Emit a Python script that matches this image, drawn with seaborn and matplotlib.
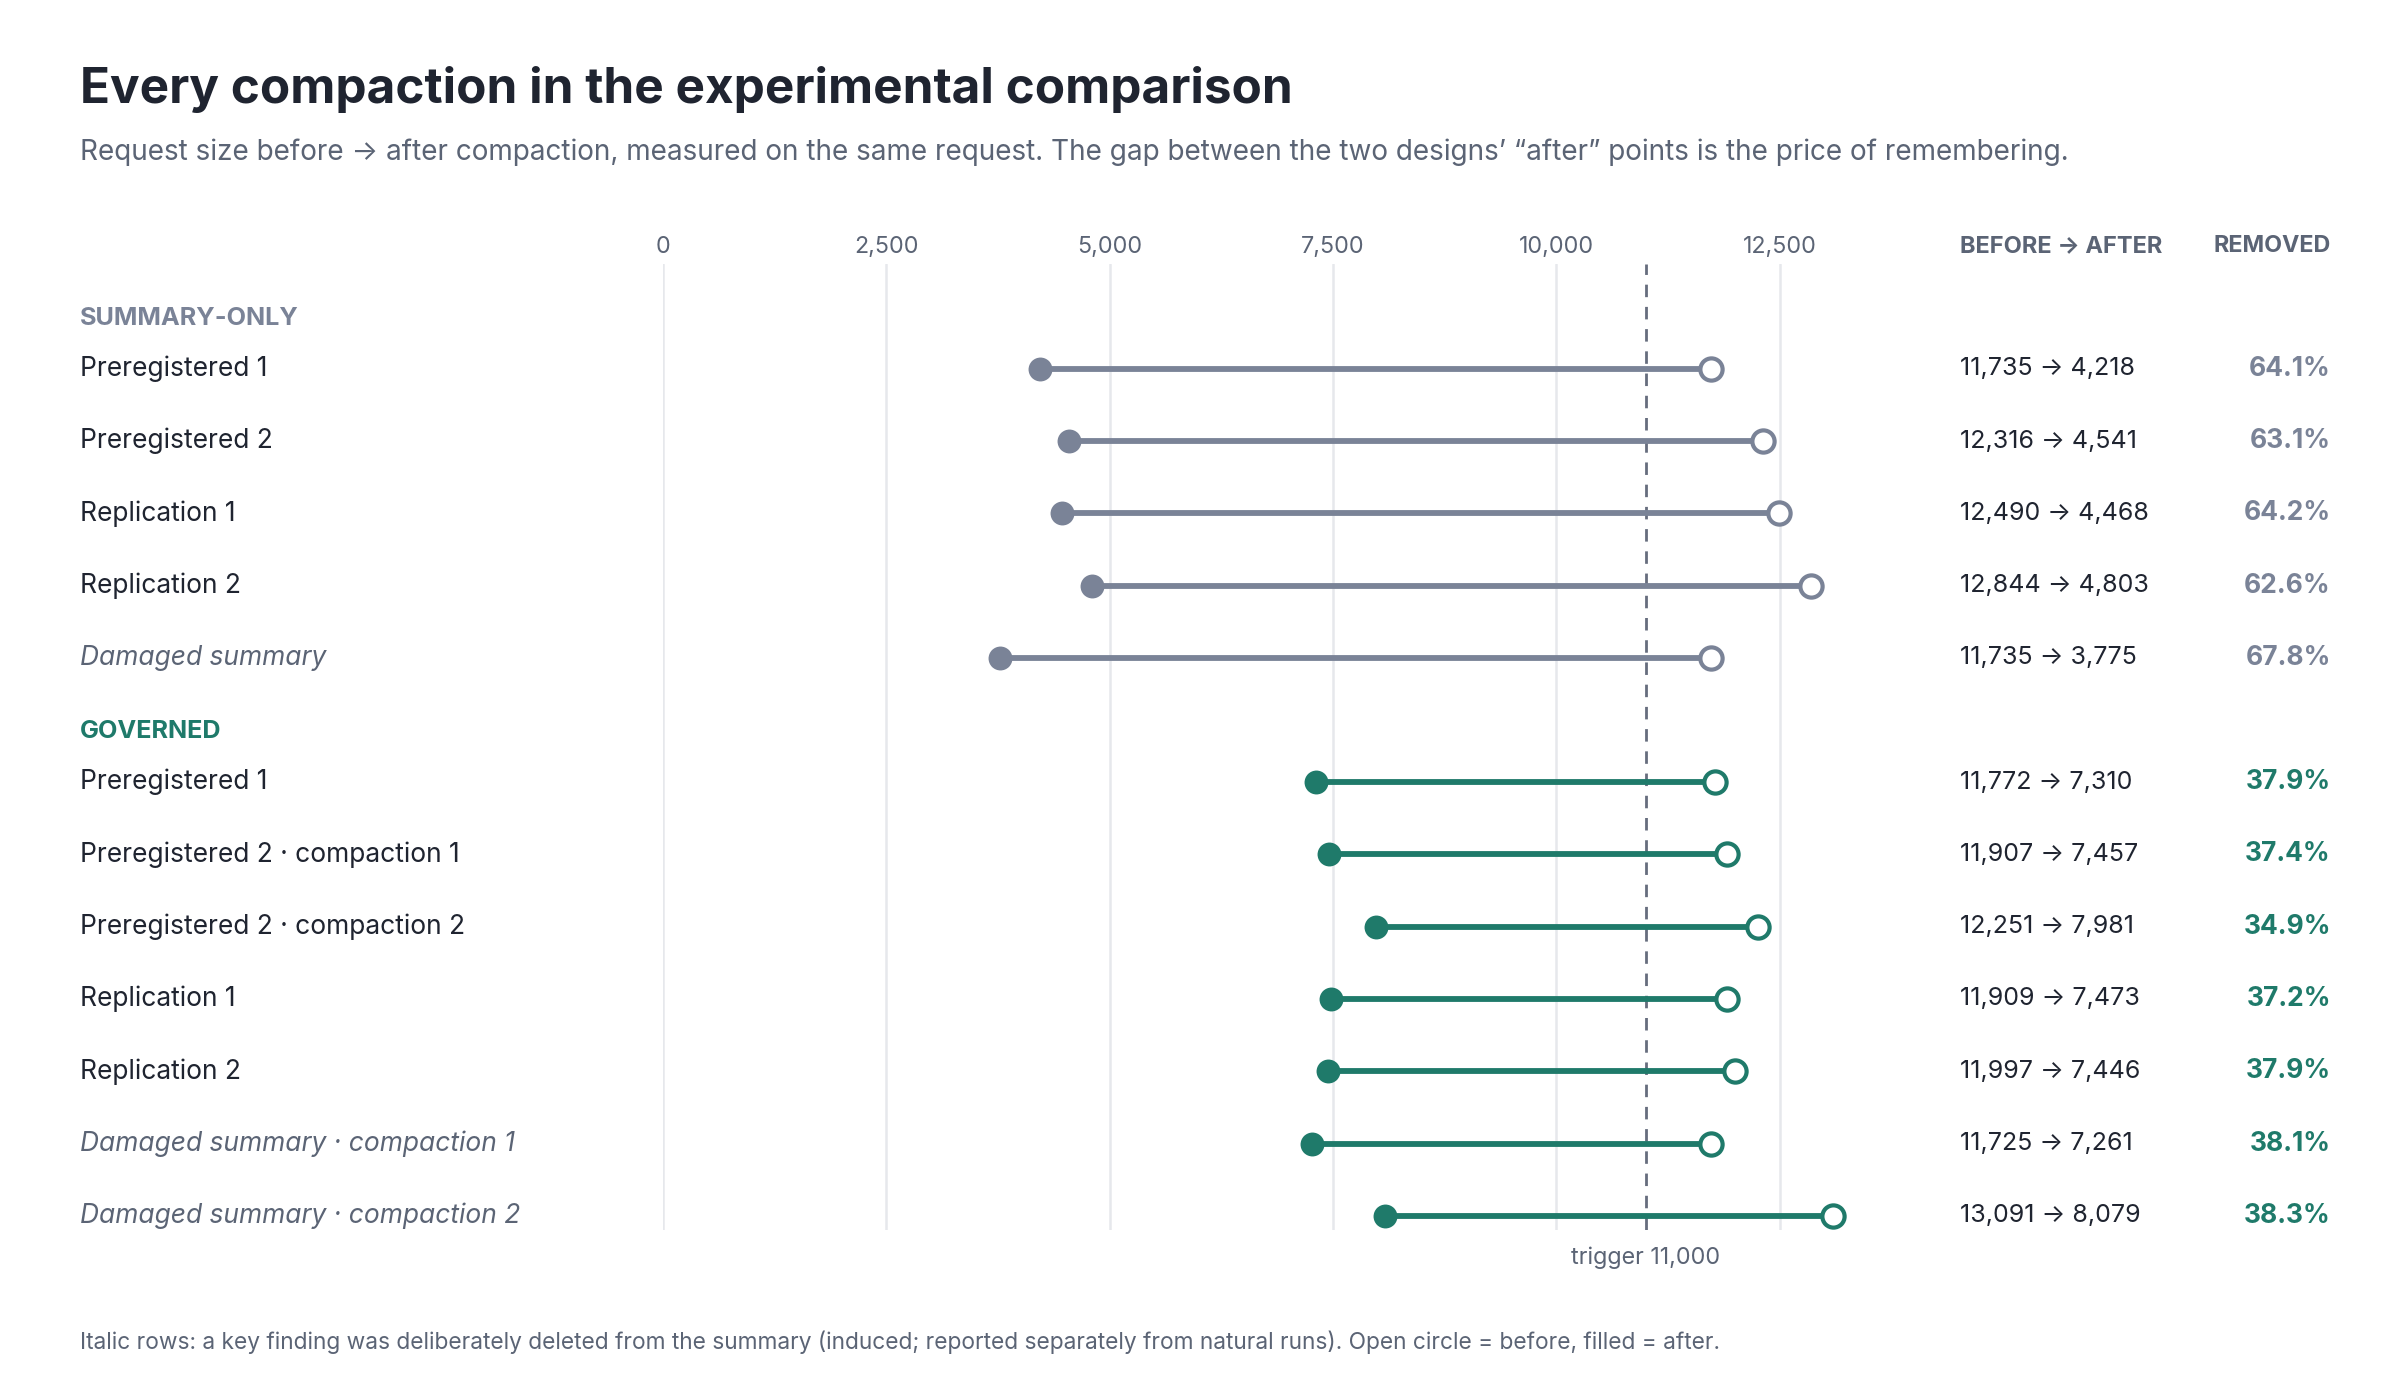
import numpy as np
import pandas as pd
import seaborn as sns
import matplotlib.pyplot as plt
from matplotlib.transforms import blended_transform_factory

# ---------------- data ----------------
summary_labels = ["Preregistered 1", "Preregistered 2", "Replication 1", "Replication 2", "Damaged summary"]
summary_before = [11735, 12316, 12490, 12844, 11735]
summary_after = [4218, 4541, 4468, 4803, 3775]
summary_removed = [64.1, 63.1, 64.2, 62.6, 67.8]
summary_italic = [False, False, False, False, True]

governed_labels = ["Preregistered 1", "Preregistered 2 · compaction 1", "Preregistered 2 · compaction 2",
                   "Replication 1", "Replication 2", "Damaged summary · compaction 1",
                   "Damaged summary · compaction 2"]
governed_before = [11772, 11907, 12251, 11909, 11997, 11725, 13091]
governed_after = [7310, 7457, 7981, 7473, 7446, 7261, 8079]
governed_removed = [37.9, 37.4, 34.9, 37.2, 37.9, 38.1, 38.3]
governed_italic = [False, False, False, False, False, True, True]

group_names = ["SUMMARY-ONLY", "GOVERNED"]
trigger = 11000
tick_values = [0, 2500, 5000, 7500, 10000, 12500]

# ---------------- style ----------------
GRAY = "#7a8397"
TEAL = "#1f7a6a"
DARK = "#1f2430"
MUTED = "#5b6475"
GRID = "#e6e8ec"
colors = {"SUMMARY-ONLY": GRAY, "GOVERNED": TEAL}

sns.set_theme(style="white")
plt.rcParams["font.family"] = ["Inter", "DejaVu Sans"]

# build table with row positions
rows = []
headers = []
pos = 0.0
for g, labels, before, after, removed, italic in [
    (group_names[0], summary_labels, summary_before, summary_after, summary_removed, summary_italic),
    (group_names[1], governed_labels, governed_before, governed_after, governed_removed, governed_italic),
]:
    headers.append((g, pos))
    y = pos + 0.70
    for lab, b, a, r, it in zip(labels, before, after, removed, italic):
        rows.append(dict(group=g, label=lab, before=b, after=a, removed=r, italic=it, y=y))
        y += 1.0
    pos = y - 1.0 + 1.02
df = pd.DataFrame(rows)

fig = plt.figure(figsize=(12, 6.92), dpi=200)
ax = fig.add_axes([431 / 1560, 1 - 800 / 900, (1244 - 431) / 1560, (800 - 172) / 900])

ax.set_xlim(0, 14000)
ax.set_ylim(12.62, -0.745)

# grid lines
for t in tick_values:
    ax.axvline(t, color=GRID, lw=0.9, zorder=0)
ax.axvline(trigger, color="#666d7d", lw=1.0, ls=(0, (4.5, 3.5)), zorder=1)
ax.text(trigger, 13.0, "trigger 11,000", ha="center", va="center", fontsize=8.4,
        color=MUTED, clip_on=False)

# lines and markers
for g in group_names:
    sub = df[df.group == g]
    c = colors[g]
    ax.hlines(sub.y, sub.after, sub.before, color=c, lw=2.1, zorder=2)
    sns.scatterplot(data=sub, x="after", y="y", color=c, s=74, linewidth=0, ax=ax, zorder=3)
    sns.scatterplot(data=sub, x="before", y="y", color="white", edgecolor=c, s=64,
                    linewidth=1.5, ax=ax, zorder=4)

ax.set_xlabel("")
ax.set_ylabel("")
ax.set_yticks([])
ax.set_xticks(tick_values)
ax.set_xticklabels([f"{t:,}" for t in tick_values], fontsize=8.4, color=MUTED)
ax.xaxis.set_ticks_position("top")
ax.tick_params(axis="x", length=0, pad=2.5)
for s in ax.spines.values():
    s.set_visible(False)

# text columns
tr = blended_transform_factory(fig.transFigure, ax.transData)
xl = 52 / 1560
xc1 = 1274 / 1560
xc2 = 1515 / 1560
for g, hy in headers:
    ax.text(xl, hy, g, transform=tr, ha="left", va="center", fontsize=9.1,
            fontweight="bold", color=colors[g])
for _, r in df.iterrows():
    ax.text(xl, r.y, r.label, transform=tr, ha="left", va="center", fontsize=9.5,
            color=MUTED if r.italic else DARK, style="italic" if r.italic else "normal")
    ax.text(xc1, r.y, f"{r.before:,} → {r.after:,}", transform=tr, ha="left", va="center",
            fontsize=9.0, color=DARK)
    ax.text(xc2, r.y, f"{r.removed:.1f}%", transform=tr, ha="right", va="center",
            fontsize=9.5, fontweight="bold", color=colors[r.group])

fig.text(xc1, 1 - 160 / 900, "BEFORE → AFTER", ha="left", va="center", fontsize=8.5,
         fontweight="bold", color=MUTED)
fig.text(xc2, 1 - 160 / 900, "REMOVED", ha="right", va="center", fontsize=8.4,
         fontweight="bold", color=MUTED)

fig.text(xl, 1 - 67 / 900, "Every compaction in the experimental comparison", ha="left",
         va="baseline", fontsize=17.8, fontweight="bold", color=DARK)
fig.text(xl, 1 - 104 / 900,
         "Request size before → after compaction, measured on the same request. "
         "The gap between the two designs’ “after” points is the price of remembering.",
         ha="left", va="baseline", fontsize=10.05, color=MUTED)
fig.text(xl, 1 - 877 / 900,
         "Italic rows: a key finding was deliberately deleted from the summary (induced; reported "
         "separately from natural runs). Open circle = before, filled = after.",
         ha="left", va="baseline", fontsize=8.2, color=MUTED)

fig.savefig("out.png", dpi=200, facecolor="white")
